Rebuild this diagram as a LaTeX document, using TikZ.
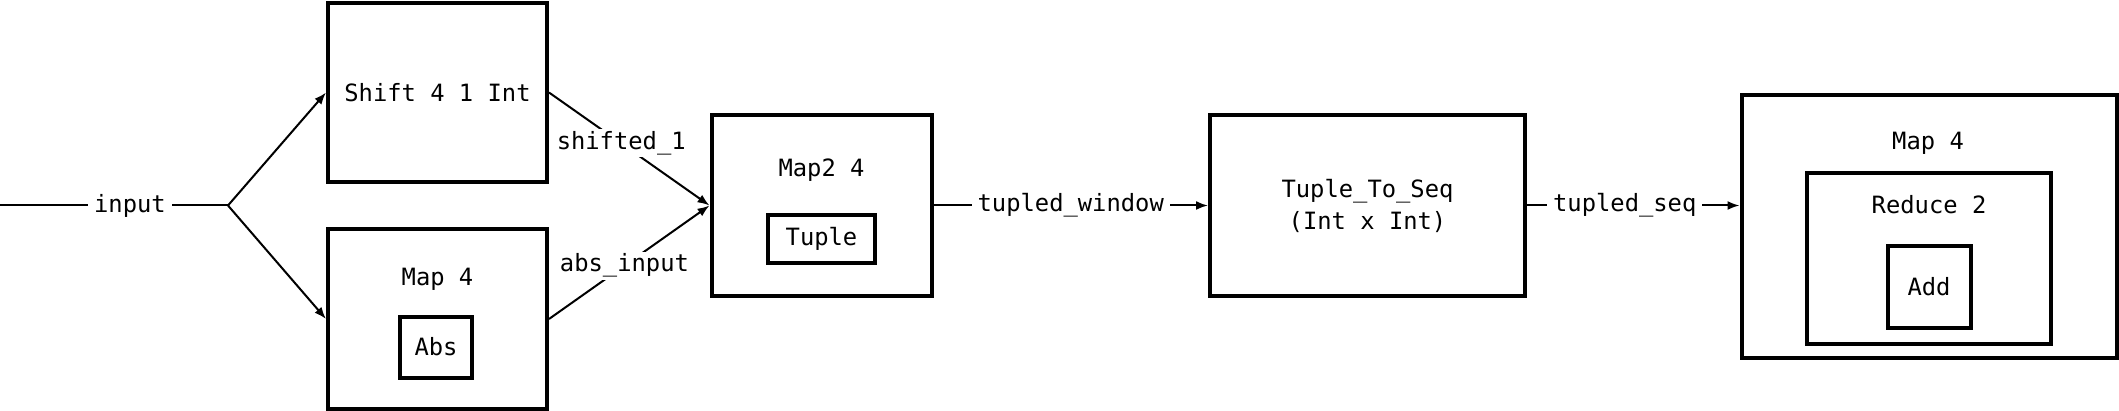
\documentclass[tikz,border=0pt]{standalone}
\usepackage{fontspec}
\setmonofont{DejaVu Sans Mono}
\usetikzlibrary{arrows.meta}
\begin{document}
\begin{tikzpicture}[x=0.5pt,y=-0.5pt,line width=1pt,
	font=\ttfamily\fontsize{11.9}{16}\selectfont,
	box/.style={draw,line width=2pt,inner sep=0pt},
	lbl/.style={fill=white,inner xsep=3pt,inner ysep=1pt},
	>={Latex[length=6pt,width=4.5pt]}]
	\useasboundingbox (0,0) rectangle (2119,411);
	\node[box,minimum width=109.5pt,minimum height=89.5pt] (shift) at (437.5,92.5) {Shift 4 1 Int};
	\node[box,minimum width=109.5pt,minimum height=90pt] (mapa) at (437.5,319) {};
	\node (mapatitle) at (437.5,279) {Map 4};
	\node[box,minimum width=36pt,minimum height=30.5pt] (abs) at (436,347) {Abs};
	\node[box,minimum width=110pt,minimum height=90.5pt] (maptwo) at (821.5,205.5) {};
	\node (maptwotitle) at (821.5,170) {Map2 4};
	\node[box,minimum width=53.5pt,minimum height=24pt] (tuple) at (821.5,239) {Tuple};
	\node[box,minimum width=157.5pt,minimum height=90.5pt,align=center] (toseq) at (1367.5,205.5) {Tuple\_To\_Seq\\(Int x Int)};
	\node[box,minimum width=187.5pt,minimum height=131.5pt] (mapb) at (1929,226.5) {};
	\node (mapbtitle) at (1928,143) {Map 4};
	\node[box,minimum width=122pt,minimum height=85.5pt] (reduce) at (1929,258.5) {};
	\node (reducetitle) at (1929,205) {Reduce 2};
	\node[box,minimum width=41.5pt,minimum height=41pt] (add) at (1929,287) {Add};
	\coordinate (src) at (0,205.5);
	\coordinate (split) at (228,205.5);
	\draw (src) -- node[lbl,pos=0.57]{input} (split);
	\draw[->] (split) -- (shift.west);
	\draw[->] (split) -- (mapa.west);
	\draw[->] (shift.east) -- node[lbl,pos=0.45]{shifted\_1} (maptwo.west);
	\draw[->] (mapa.east) -- node[lbl,pos=0.47]{abs\_input} (maptwo.west);
	\draw[->] (maptwo.east) -- node[lbl]{tupled\_window} (toseq.west);
	\draw[->] (toseq.east) -- node[lbl,pos=0.46]{tupled\_seq} (toseq.east -| mapb.west);
\end{tikzpicture}
\end{document}
